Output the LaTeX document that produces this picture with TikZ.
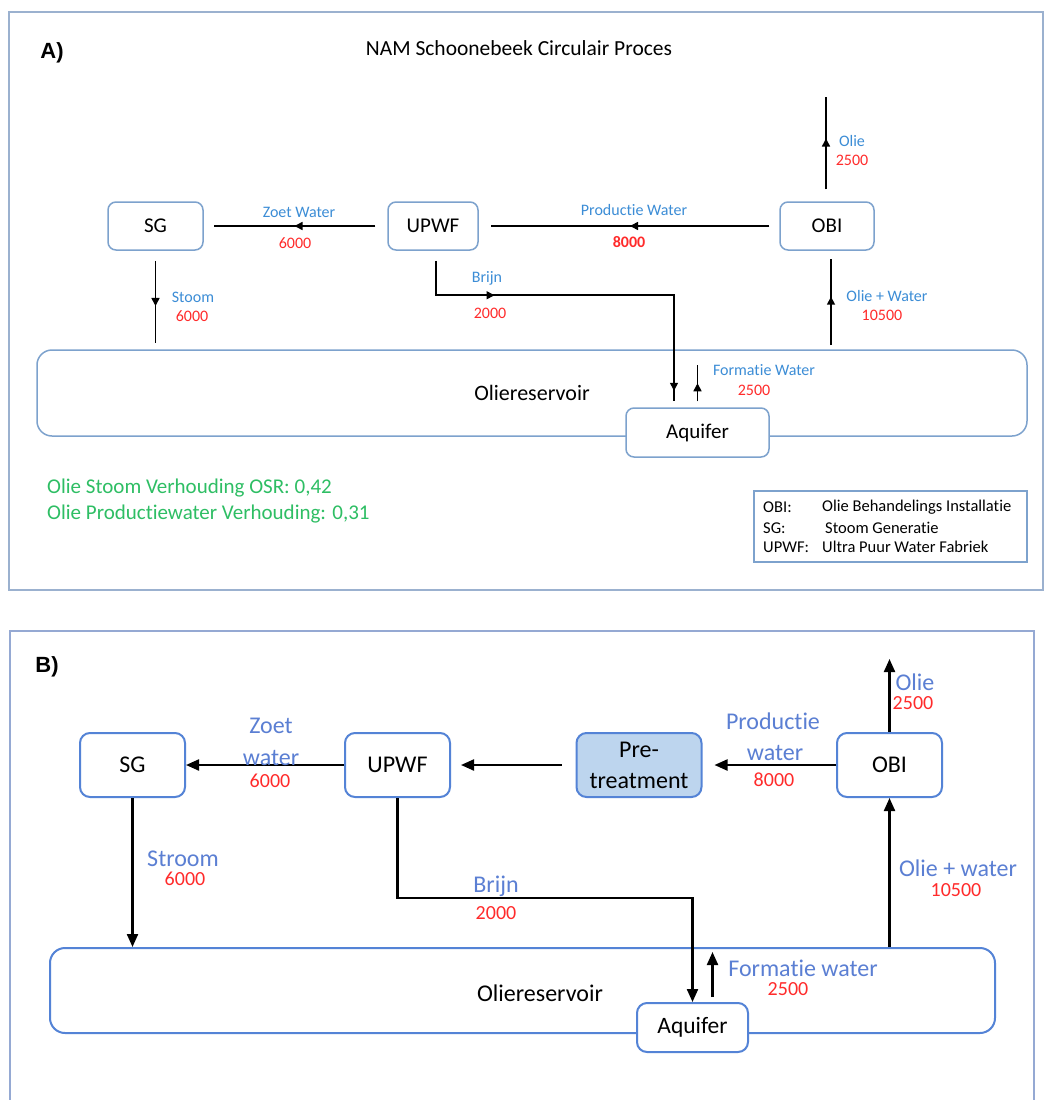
\documentclass[tikz,border=0pt]{standalone}
\usepackage{fontspec}
\setmainfont{Carlito}[Ligatures=CommonOff]
\newfontfamily\arialf{Liberation Sans}
\usetikzlibrary{arrows.meta,decorations.markings,calc}
\definecolor{frameA}{HTML}{9BB1CF}
\definecolor{boxAc}{HTML}{7DA2CD}
\definecolor{lblAc}{HTML}{3C8DD6}
\definecolor{redT}{HTML}{FF2B2B}
\definecolor{greenT}{HTML}{2EBE64}
\definecolor{boxBc}{HTML}{5483D6}
\definecolor{lblBc}{HTML}{5B7FD3}
\definecolor{preFill}{HTML}{BDD5EE}
\definecolor{frameB}{HTML}{95A9D3}
\tikzset{
  boxA/.style={draw=boxAc, line width=1.5pt, rounded corners=8pt, fill=white, inner sep=0pt, font=\fontsize{21}{25}\selectfont},
  boxB/.style={draw=boxBc, line width=2pt, rounded corners=10pt, fill=white, inner sep=0pt, font=\fontsize{24}{29}\selectfont},
  lblA/.style={text=lblAc, inner sep=0pt, font=\fontsize{16}{19}\selectfont},
  numA/.style={text=redT, inner sep=0pt, font=\fontsize{16}{19}\selectfont},
  lblB/.style={text=lblBc, inner sep=0pt, font=\fontsize{24}{29}\selectfont},
  numB/.style={text=redT, inner sep=0pt, font=\fontsize{20}{24}\selectfont},
  legtxt/.style={anchor=west, inner sep=0pt, font=\fontsize{16.5}{20}\selectfont},
  greentxt/.style={anchor=west, text=greenT, inner sep=0pt, font=\fontsize{21}{25}\selectfont},
  flowA/.style={line width=1.6pt, draw=black},
  flowB/.style={line width=2.2pt, draw=black, -{Triangle[length=13pt,width=11pt]}},
  midarrow/.style={postaction={decorate}, decoration={markings, mark=at position #1 with {\arrow{Triangle[length=8pt,width=8pt]}}}},
  brijnmarks/.style={postaction={decorate}, decoration={markings,
      mark=at position 93pt with {\arrow{Triangle[length=8pt,width=8pt]}},
      mark=at position 368pt with {\arrow{Triangle[length=8pt,width=8pt]}}}}
}
\begin{document}
\begin{tikzpicture}[x=1pt, y=-1pt]
\useasboundingbox[fill=white] (0,0) rectangle (1044,1100);

%% ================= Panel A =================
\draw[frameA, line width=1.8pt] (9,12) rectangle (1043,590);
\node[font=\arialf\bfseries\fontsize{22}{26}\selectfont, inner sep=0pt] (labA) at (52,53) {A)};
\node[font=\fontsize{21.5}{26}\selectfont, inner sep=0pt] (titleA) at (519,48) {NAM Schoonebeek Circulair Proces};

\node[boxA, rounded corners=15pt, minimum width=990pt, minimum height=86pt, font=\fontsize{22}{26}\selectfont] (resA) at (532,393) {Oliereservoir};
\node[boxA, minimum width=143pt, minimum height=49pt] (aqA) at (697.5,432.5) {Aquifer};
\node[boxA, minimum width=95pt, minimum height=48pt] (sgA) at (155.5,226) {SG};
\node[boxA, minimum width=90pt, minimum height=48pt] (upwfA) at (433,226) {UPWF};
\node[boxA, minimum width=94pt, minimum height=48pt] (obiA) at (827,226) {OBI};

\coordinate (oilTopA) at (826,97);
\coordinate (stoomEndA) at (155.5,343);
\coordinate (owStartA) at (831,345);

\draw[flowA, midarrow=0.5] ($(upwfA.west)+(-12,0)$) -- ($(sgA.east)+(10,0)$);
\draw[flowA, midarrow=0.5] ($(obiA.west)+(-10,0)$) -- ($(upwfA.east)+(12,0)$);
\draw[flowA, midarrow=0.55] ($(obiA.north)+(-1,-12)$) -- (oilTopA);
\draw[flowA, midarrow=0.55] ($(sgA.south)+(0,10)$) -- (stoomEndA);
\draw[flowA, midarrow=0.56] (owStartA) -- ($(obiA.south)+(4,8)$);
\draw[flowA, brijnmarks] ($(upwfA.south)+(3,10)$) |- ($(aqA.north)+(-23.5,-112)$) -- ($(aqA.north)+(-23.5,-6)$);
\draw[flowA, midarrow=0.5] ($(aqA.north)+(0,-6)$) -- ($(aqA.north)+(0,-42)$);

\node[lblA] (lZoetA) at (299,212) {Zoet Water};
\node[numA] (nZoetA) at (295,243) {6000};
\node[lblA] (lProdA) at (634,210) {Productie Water};
\node[numA, font=\bfseries\fontsize{16}{19}\selectfont] (nProdA) at (629,242) {8000};
\node[lblA] (lOlieA) at (852,141) {Olie};
\node[numA] (nOlieA) at (852,160) {2500};
\node[lblA] (lOWA) at (887,296) {Olie + Water};
\node[numA] (nOWA) at (882,315) {10500};
\node[lblA] (lStoomA) at (193,297) {Stoom};
\node[numA] (nStoomA) at (192,316) {6000};
\node[lblA] (lBrijnA) at (487,278) {Brijn};
\node[numA] (nBrijnA) at (490,313) {2000};
\node[lblA] (lFormA) at (764,370) {Formatie Water};
\node[numA] (nFormA) at (754,390) {2500};

\node[greentxt] (g1) at (47,488) {Olie Stoom Verhouding OSR: 0,42};
\node[greentxt] (g2) at (47,514) {Olie Productiewater Verhouding: 0,31};

\node[draw=boxAc, line width=1.5pt, minimum width=273pt, minimum height=71pt, inner sep=0pt] (legA) at (890.5,526.5) {};
\node[legtxt] (k1) at (763,507) {OBI:};
\node[legtxt] (k2) at (763,528) {SG:};
\node[legtxt] (k3) at (763,547) {UPWF:};
\node[legtxt] (v1) at (822,507) {Olie Behandelings Installatie};
\node[legtxt] (v2) at (825,528) {Stoom Generatie};
\node[legtxt] (v3) at (822,547) {Ultra Puur Water Fabriek};

%% ================= Panel B =================
\draw[frameB, line width=1.8pt] (10,1100) -- (10,631) -- (1034,631) -- (1034,1100);
\node[font=\arialf\bfseries\fontsize{22}{26}\selectfont, inner sep=0pt] (labB) at (47,667) {B)};

\node[boxB, rounded corners=15pt, minimum width=945pt, minimum height=85pt] (resB) at (522.5,990.5) {};
\node[inner sep=0pt, font=\fontsize{24}{29}\selectfont] (resBtxt) at (540,993) {Oliereservoir};
\node[boxB, minimum width=111pt, minimum height=49pt, font=\fontsize{23.5}{28}\selectfont] (aqB) at (692.5,1027.5) {Aquifer};
\node[boxB, minimum width=105pt, minimum height=64pt] (sgB) at (132.5,765) {SG};
\node[boxB, minimum width=105pt, minimum height=64pt] (upwfB) at (397.5,765) {UPWF};
\node[boxB, fill=preFill, minimum width=125pt, minimum height=64pt, align=center, font=\fontsize{24}{31}\selectfont] (preB) at (639,765) {Pre-\\treatment};
\node[boxB, minimum width=105pt, minimum height=64pt] (obiB) at (889.5,765) {OBI};

\coordinate (oilTopB) at (889.5,659);

\draw[flowB] (upwfB.west) -- (sgB.east);
\draw[flowB] ($(preB.west)+(-14,0)$) -- ($(upwfB.east)+(10,0)$);
\draw[flowB] (obiB.west) -- ($(preB.east)+(12,0)$);
\draw[flowB] (obiB.north) -- (oilTopB);
\draw[flowB] (obiB.south |- resB.north) -- (obiB.south);
\draw[flowB] (sgB.south) -- (sgB.south |- resB.north);
\draw[flowB] (upwfB.south) |- ($(aqB.north)+(0,-104)$) -- (aqB.north);
\draw[flowB] ($(aqB.north)+(20,-5)$) -- ($(aqB.north)+(20,-50)$);

\node[lblB] (lZoetB1) at (271,726) {Zoet};
\node[lblB] (lZoetB2) at (271,758) {water};
\node[numB] (nZoetB) at (270,781) {6000};
\node[lblB] (lProdB1) at (773,721) {Productie};
\node[lblB] (lProdB2) at (775,753) {water};
\node[numB] (nProdB) at (774,780) {8000};
\node[lblB] (lOlieB) at (915,682) {Olie};
\node[numB] (nOlieB) at (913,703) {2500};
\node[lblB] (lOWB) at (958,868) {Olie + water};
\node[numB] (nOWB) at (956,890) {10500};
\node[lblB] (lStroomB) at (183,859) {Stroom};
\node[numB] (nStroomB) at (185,879) {6000};
\node[lblB] (lBrijnB) at (496,886) {Brijn};
\node[numB] (nBrijnB) at (496,913) {2000};
\node[lblB] (lFormB) at (803,968) {Formatie water};
\node[numB] (nFormB) at (788,989) {2500};
\end{tikzpicture}
\end{document}
